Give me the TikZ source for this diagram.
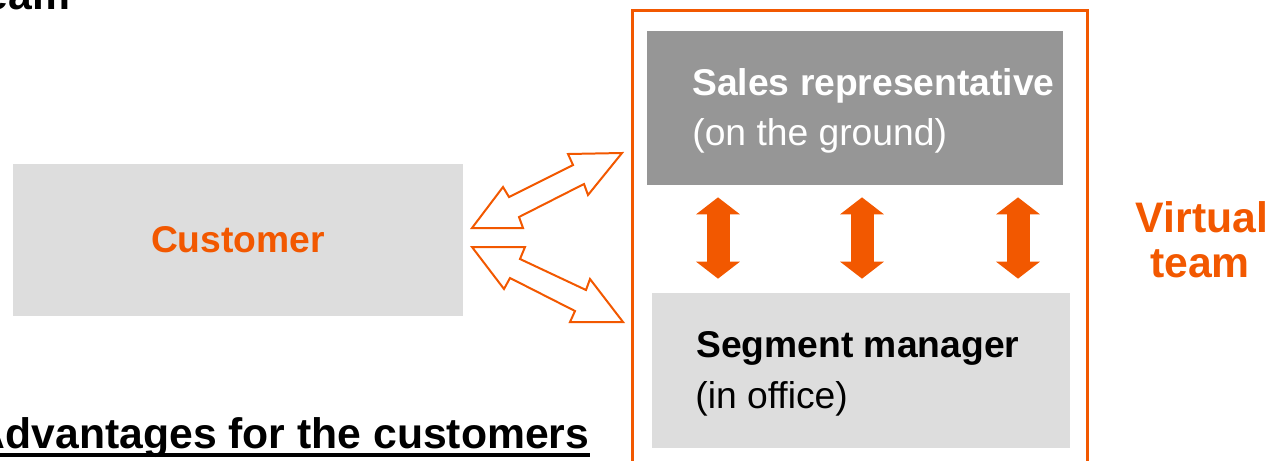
\documentclass[tikz,border=0pt]{standalone}
\usepackage{fontspec}
\setmainfont{Liberation Sans}
\usetikzlibrary{arrows.meta}
\definecolor{orng}{RGB}{242, 88, 0}
\definecolor{darkfill}{RGB}{150, 150, 150}
\definecolor{lightfill}{RGB}{221, 221, 221}

\begin{document}
\begin{tikzpicture}[x=0.02cm, y=-0.02cm,
  box/.style={rectangle, inner sep=0},
  txt/.style={inner sep=0, anchor=base west, font=\fontsize{21.2}{25}\selectfont},
  txtb/.style={txt, font=\fontsize{21.2}{25}\selectfont\bfseries},
  big/.style={inner sep=0, font=\fontsize{24.3}{28}\selectfont\bfseries},
  hollow/.style={orng, line width=0.04cm},
  updown/.style={<->, >={Triangle[width=0.86cm, length=0.34cm]}, orng, line width=0.46cm}]

  \useasboundingbox (0, 0) rectangle (1273, 460);
  \clip (0, 0) rectangle (1273, 460);

  % heading, runs off the top edge
  \node[big, anchor=base east] (head) at (70.5, 9.5) {eam};

  \node[box, fill=lightfill, minimum width=9cm, minimum height=3.04cm,
    font=\fontsize{21.2}{25}\selectfont\bfseries, text=orng] (customer) at (238, 240) {Customer};

  % frame of the virtual team
  \draw[orng, line width=0.06cm] (632, 480) |- (1087.5, 10.5) -- (1087.5, 480);

  \node[box, fill=darkfill, minimum width=8.32cm, minimum height=3.08cm] (sales) at (855, 108) {};
  \node[box, fill=lightfill, minimum width=8.36cm, minimum height=3.1cm] (segment) at (861, 370.5) {};

  \node[txtb, white] (salestitle) at (692, 95) {Sales representative};
  \node[txt, white] (salesnote) at (692, 145) {(on the ground)};
  \node[txtb] (segtitle) at (696, 357) {Segment manager};
  \node[txt] (segnote) at (695, 408) {(in office)};

  \node[big, text=orng, anchor=base] (virtual) at (1202, 232) {Virtual};
  \node[big, text=orng, anchor=base] (team) at (1200, 277) {team};

  \foreach \ax in {718, 862, 1018}
    \draw[updown, shorten <=0.24cm, shorten >=0.28cm] (\ax,0 |- sales.south) -- (\ax,0 |- segment.north);

  % open double arrows towards the customer
  \draw[hollow] (472, 228) -- (503, 187) -- (509, 197) -- (573, 165) -- (568, 154)
    -- (622, 153) -- (588, 195) -- (584, 184) -- (519, 217) -- (523, 228) -- cycle;
  \draw[hollow] (472, 247) -- (525, 247) -- (520, 259) -- (586, 290) -- (590, 279)
    -- (623, 322) -- (570, 322) -- (575, 311) -- (510, 278) -- (504, 289) -- cycle;

  \node[big, anchor=base west] (adv) at (-25.5, 448.3) {Advantages for the customers};
  \draw[line width=0.08cm] ([yshift=-0.14cm]adv.base west) -- ([yshift=-0.14cm]adv.base east);

\end{tikzpicture}
\end{document}
